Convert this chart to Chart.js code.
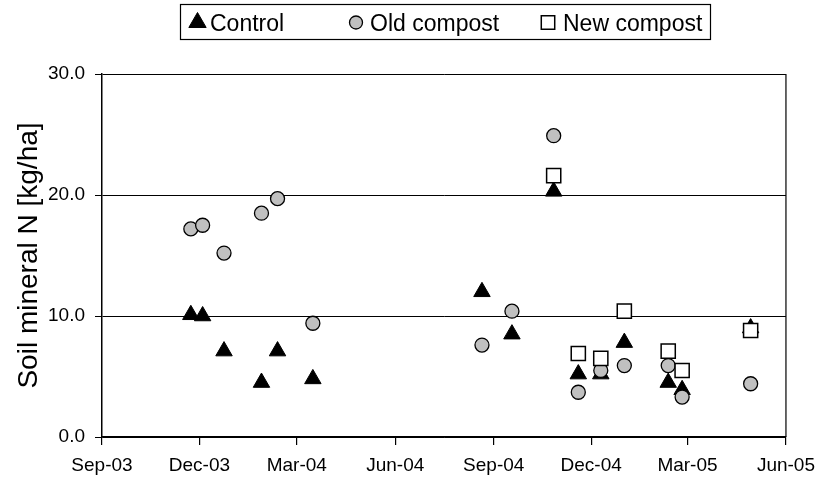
<!DOCTYPE html>
<html>
<head>
<meta charset="utf-8">
<script src="https://cdn.jsdelivr.net/npm/chart.js@4.4.1/dist/chart.umd.min.js"></script>
<style>
  html, body { margin: 0; padding: 0; background: #fff; }
</style>
</head>
<body>
<canvas id="chartN" width="824" height="483"></canvas>
<script>
// ============================================================
// 1. DATA
// ============================================================
const sampleDates = ['2003-11-23', '2003-12-04', '2003-12-24', '2004-01-28', '2004-02-12', '2004-03-16',
                     '2004-08-21', '2004-09-18', '2004-10-27', '2004-11-19', '2004-12-10', '2005-01-01',
                     '2005-02-11', '2005-02-24', '2005-04-29'];
const controlN    = [10.1, 10.0, 7.1, 4.5, 7.1, 4.8, 12.0, 8.5, 20.3, 5.2, 5.2, 7.8, 4.5, 3.9, 9.0];
const oldCompostN = [17.2, 17.5, 15.2, 18.5, 19.7, 9.4, 7.6, 10.4, 24.9, 3.7, 5.5, 5.9, 5.9, 3.3, 4.4];

const newCompostDates = ['2004-10-27', '2004-11-19', '2004-12-10', '2005-01-01', '2005-02-11', '2005-02-24', '2005-04-29'];
const newCompostN     = [21.6, 6.9, 6.5, 10.4, 7.1, 5.5, 8.8];

const tickDates  = ['2003-09-01', '2003-12-01', '2004-03-01', '2004-06-01', '2004-09-01', '2004-12-01', '2005-03-01', '2005-06-01'];
const tickLabels = ['Sep-03', 'Dec-03', 'Mar-04', 'Jun-04', 'Sep-04', 'Dec-04', 'Mar-05', 'Jun-05'];
const yTicks     = [0, 10, 20, 30];

// date string -> day number (no date adapter available, so x is a plain linear axis)
function dayNum(s) {
    const [y, m, d] = s.split('-').map(Number);
    return Date.UTC(y, m - 1, d) / 86400000;
}
const toPoints = (dates, vals) => dates.map((d, i) => ({ x: dayNum(d), y: vals[i] }));

// ============================================================
// 2. LEGEND IN A BOX + RIGHT EDGE OF PLOT
// ============================================================
const FONT = '"Liberation Sans", Arial, sans-serif';

const legendBox = {
    id: 'legendBox',
    afterDraw(chart) {
        const ctx = chart.ctx;
        const a = chart.chartArea;
        ctx.save();

        // right border of the plot area
        ctx.strokeStyle = '#000';
        ctx.lineWidth = 1.2;
        ctx.beginPath();
        ctx.moveTo(a.right, a.top);
        ctx.lineTo(a.right, a.bottom);
        ctx.stroke();

        // legend frame
        ctx.lineWidth = 1.2;
        ctx.strokeRect(180.5, 4.5, 530, 35);

        const items = [
            { ds: 0, mx: 197.5, r: 10,  tx: 210 },
            { ds: 1, mx: 356,   r: 6.5, tx: 370 },
            { ds: 2, mx: 548,   r: 9.5, tx: 563 }
        ];
        ctx.font = '23px ' + FONT;
        ctx.textBaseline = 'alphabetic';
        ctx.textAlign = 'left';
        items.forEach(it => {
            const ds = chart.data.datasets[it.ds];
            ctx.fillStyle = ds.backgroundColor;
            ctx.strokeStyle = ds.borderColor;
            ctx.lineWidth = ds.borderWidth;
            Chart.helpers.drawPoint(ctx, { pointStyle: ds.pointStyle, radius: it.r, borderWidth: ds.borderWidth }, it.mx, 22.5);
            ctx.fillStyle = '#000';
            ctx.fillText(ds.label, it.tx, 30.5);
        });
        ctx.restore();
    }
};

// ============================================================
// 3. CHART
// ============================================================
Chart.defaults.font.family = FONT;
Chart.defaults.color = '#000';

new Chart(document.getElementById('chartN'), {
    type: 'scatter',
    data: {
        datasets: [
            {
                label: 'Control',
                data: toPoints(sampleDates, controlN),
                pointStyle: 'triangle',
                pointRadius: 9.5,
                backgroundColor: '#000',
                borderColor: '#000',
                borderWidth: 1,
                order: 3
            },
            {
                label: 'Old compost',
                data: toPoints(sampleDates, oldCompostN),
                pointStyle: 'circle',
                pointRadius: 7,
                backgroundColor: '#c0c0c0',
                borderColor: '#000',
                borderWidth: 1.3,
                order: 2
            },
            {
                label: 'New compost',
                data: toPoints(newCompostDates, newCompostN),
                pointStyle: 'rect',
                pointRadius: 10,
                backgroundColor: '#fff',
                borderColor: '#000',
                borderWidth: 1.5,
                order: 1
            }
        ]
    },
    options: {
        responsive: false,
        animation: false,
        layout: { padding: { top: 74, right: 37, left: 0, bottom: 0 } },
        plugins: {
            legend: { display: false },
            tooltip: { enabled: false }
        },
        scales: {
            x: {
                type: 'linear',
                min: dayNum(tickDates[0]),
                max: dayNum(tickDates[tickDates.length - 1]),
                afterBuildTicks: s => { s.ticks = tickDates.map(d => ({ value: dayNum(d) })); },
                afterFit: s => { s.height = 46; },
                ticks: {
                    autoSkip: false,
                    maxRotation: 0,
                    padding: 9,
                    font: { size: 19 },
                    callback: (v, i) => tickLabels[i]
                },
                grid: { drawOnChartArea: false, tickLength: 8, color: '#000', lineWidth: 1.2 },
                border: { color: '#000', width: 1.5 }
            },
            y: {
                min: yTicks[0],
                max: yTicks[yTicks.length - 1],
                afterBuildTicks: s => { s.ticks = yTicks.map(v => ({ value: v })); },
                afterFit: s => { s.width = 102; },
                ticks: {
                    padding: 10,
                    font: { size: 19 },
                    callback: v => v.toFixed(1)
                },
                grid: { color: '#000', lineWidth: 1, tickLength: 7 },
                border: { color: '#000', width: 1.5 },
                title: {
                    display: true,
                    text: 'Soil mineral N [kg/ha]',
                    font: { size: 28 },
                    padding: { top: 12, bottom: 0 }
                }
            }
        }
    },
    plugins: [legendBox]
});
</script>
</body>
</html>
